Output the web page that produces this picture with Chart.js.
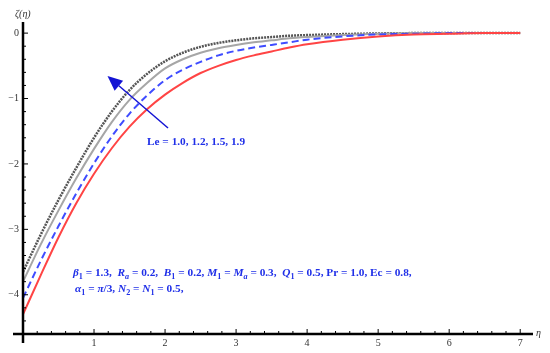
<!DOCTYPE html>
<html>
<head>
<meta charset="utf-8">
<script src="https://cdn.jsdelivr.net/npm/chart.js@4.4.1/dist/chart.umd.min.js"></script>
<style>
  body { margin: 0; background: #fff; }
  #wrap { width: 550px; height: 353px; position: relative; }
</style>
</head>
<body>
<div id="wrap"><canvas id="chart"></canvas></div>
<script>
// eta grid and profiles zeta(eta) for Le = 1.9, 1.5, 1.2, 1.0
const eta = [0, 0.25, 0.5, 0.75, 1, 1.25, 1.5, 1.75, 2, 2.25, 2.5, 2.75, 3, 3.25, 3.5, 3.75, 4, 4.5, 5, 5.5, 6, 6.5, 7];
const zetaLe19 = [-3.65, -3.08, -2.55, -2.06, -1.60, -1.20, -0.87, -0.62, -0.43, -0.30, -0.21, -0.15, -0.11, -0.08, -0.06, -0.04, -0.03, -0.015, -0.005, 0, 0, 0, 0];
const zetaLe15 = [-3.80, -3.23, -2.71, -2.22, -1.77, -1.36, -1.02, -0.76, -0.54, -0.40, -0.30, -0.23, -0.18, -0.14, -0.11, -0.08, -0.06, -0.03, -0.01, 0, 0, 0, 0];
const zetaLe12 = [-4.05, -3.48, -2.95, -2.45, -1.99, -1.58, -1.23, -0.95, -0.72, -0.56, -0.44, -0.34, -0.27, -0.22, -0.18, -0.14, -0.10, -0.05, -0.02, -0.01, 0, 0, 0];
const zetaLe10 = [-4.30, -3.70, -3.12, -2.60, -2.15, -1.76, -1.43, -1.16, -0.94, -0.76, -0.61, -0.50, -0.41, -0.34, -0.28, -0.22, -0.17, -0.10, -0.05, -0.02, -0.01, 0, 0];

const xTickLabels = [1, 2, 3, 4, 5, 6, 7];
const yTickLabels = [0, -1, -2, -3, -4];

const xMin = 0, xMax = 7.18;
const yMin = -4.6, yMax = 0.17;

const serif = "'Liberation Serif', 'Times New Roman', serif";
const textBlue = '#1f2fe8';
const textSize = 11.3;

function pts(ys) {
    return eta.map((x, i) => ({ x: x, y: ys[i] }));
}

// draw a line of text with italic pieces and subscripts
function richText(ctx, x, y, parts, size) {
    let cx = x;
    parts.forEach(p => {
        const fs = p.sub ? size * 0.72 : size;
        ctx.font = (p.i ? 'italic ' : '') + 'bold ' + fs + 'px ' + serif;
        ctx.fillText(p.t, cx, y + (p.sub ? size * 0.28 : 0));
        cx += ctx.measureText(p.t).width;
    });
}

const axesPlugin = {
    id: 'mmaAxes',
    afterDraw(chart) {
        const ctx = chart.ctx;
        const xs = chart.scales.x, ys = chart.scales.y;
        const x0 = xs.getPixelForValue(0);
        const y0 = ys.getPixelForValue(yMin);
        const xEnd = xs.getPixelForValue(xMax);
        const yTop = ys.getPixelForValue(yMax);
        ctx.save();
        ctx.strokeStyle = '#000';
        ctx.lineWidth = 2.5;
        ctx.beginPath();
        ctx.moveTo(x0, yTop);
        ctx.lineTo(x0, y0 + 9);
        ctx.moveTo(x0 - 10, y0);
        ctx.lineTo(xEnd, y0);
        ctx.stroke();

        // tick marks, pointing inward
        ctx.lineWidth = 1;
        ctx.beginPath();
        for (let k = 0; k <= 35; k++) {
            const px = xs.getPixelForValue(k * 0.2);
            const len = (k % 5 === 0) ? 5 : 3;
            ctx.moveTo(px, y0);
            ctx.lineTo(px, y0 - len);
        }
        for (let k = 0; k <= 23; k++) {
            const py = ys.getPixelForValue(-k * 0.2);
            const len = (k % 5 === 0) ? 5 : 3;
            ctx.moveTo(x0, py);
            ctx.lineTo(x0 + len, py);
        }
        ctx.stroke();

        // tick labels
        ctx.fillStyle = '#333';
        ctx.font = '10px ' + serif;
        ctx.textAlign = 'center';
        ctx.textBaseline = 'top';
        xTickLabels.forEach(v => ctx.fillText(String(v), xs.getPixelForValue(v), y0 + 4));
        ctx.textAlign = 'right';
        ctx.textBaseline = 'middle';
        yTickLabels.forEach(v => ctx.fillText(v === 0 ? '0' : '\u2212' + Math.abs(v), x0 - 4, ys.getPixelForValue(v)));

        // axis names
        ctx.font = 'italic 10px ' + serif;
        ctx.textAlign = 'left';
        ctx.fillText('\u03b6(\u03b7)', 15, 14);
        ctx.fillText('\u03b7', 536, y0 - 1);

        // arrow
        ctx.strokeStyle = '#1414d4';
        ctx.fillStyle = '#1414d4';
        ctx.lineWidth = 1.5;
        const ax = 168, ay = 128, tx = 107.5, ty = 76;
        const ang = Math.atan2(ty - ay, tx - ax);
        const hl = 15, hw = 6.5;
        const bx = tx - hl * Math.cos(ang), by = ty - hl * Math.sin(ang);
        ctx.beginPath();
        ctx.moveTo(ax, ay);
        ctx.lineTo(bx, by);
        ctx.stroke();
        ctx.beginPath();
        ctx.moveTo(tx, ty);
        ctx.lineTo(bx + hw * Math.sin(ang), by - hw * Math.cos(ang));
        ctx.lineTo(bx - hw * Math.sin(ang), by + hw * Math.cos(ang));
        ctx.closePath();
        ctx.fill();

        // labels
        ctx.fillStyle = textBlue;
        ctx.textAlign = 'left';
        ctx.textBaseline = 'alphabetic';
        ctx.font = 'bold ' + textSize + 'px ' + serif;
        ctx.fillText('Le = 1.0, 1.2, 1.5, 1.9', 147, 145);

        richText(ctx, 73, 276, [
            { t: '\u03b2', i: 1 }, { t: '1', sub: 1 }, { t: ' = 1.3,  ' },
            { t: 'R', i: 1 }, { t: 'a', i: 1, sub: 1 }, { t: ' = 0.2,  ' },
            { t: 'B', i: 1 }, { t: '1', sub: 1 }, { t: ' = 0.2, ' },
            { t: 'M', i: 1 }, { t: '1', sub: 1 }, { t: ' = ' },
            { t: 'M', i: 1 }, { t: 'a', i: 1, sub: 1 }, { t: ' = 0.3,  ' },
            { t: 'Q', i: 1 }, { t: '1', sub: 1 }, { t: ' = 0.5, Pr = 1.0, Ec = 0.8,' }
        ], textSize);
        richText(ctx, 75, 292, [
            { t: '\u03b1', i: 1 }, { t: '1', sub: 1 }, { t: ' = ' },
            { t: '\u03c0', i: 1 }, { t: '/3, ' },
            { t: 'N', i: 1 }, { t: '2', sub: 1 }, { t: ' = ' },
            { t: 'N', i: 1 }, { t: '1', sub: 1 }, { t: ' = 0.5,' }
        ], textSize);
        ctx.restore();
    }
};

const ctx = document.getElementById('chart').getContext('2d');
const chart = new Chart(ctx, {
    type: 'line',
    data: {
        datasets: [
            { label: 'Le = 1.0', data: pts(zetaLe10), borderColor: '#ff4444', borderWidth: 2 },
            { label: 'Le = 1.2', data: pts(zetaLe12), borderColor: '#3f4cff', borderWidth: 2, borderDash: [7, 4] },
            { label: 'Le = 1.5', data: pts(zetaLe15), borderColor: '#a6a6a6', borderWidth: 2 },
            { label: 'Le = 1.9', data: pts(zetaLe19), borderColor: '#555', borderWidth: 2.5, borderDash: [2, 1] }
        ]
    },
    options: {
        responsive: true,
        maintainAspectRatio: false,
        animation: false,
        layout: { padding: { left: 23, right: 17, top: 22, bottom: 19 } },
        elements: {
            point: { radius: 0 },
            line: { cubicInterpolationMode: 'monotone', fill: false }
        },
        scales: {
            x: { type: 'linear', min: xMin, max: xMax, display: false },
            y: { type: 'linear', min: yMin, max: yMax, display: false }
        },
        plugins: {
            legend: { display: false },
            tooltip: { enabled: false }
        }
    },
    plugins: [axesPlugin]
});
</script>
</body>
</html>
